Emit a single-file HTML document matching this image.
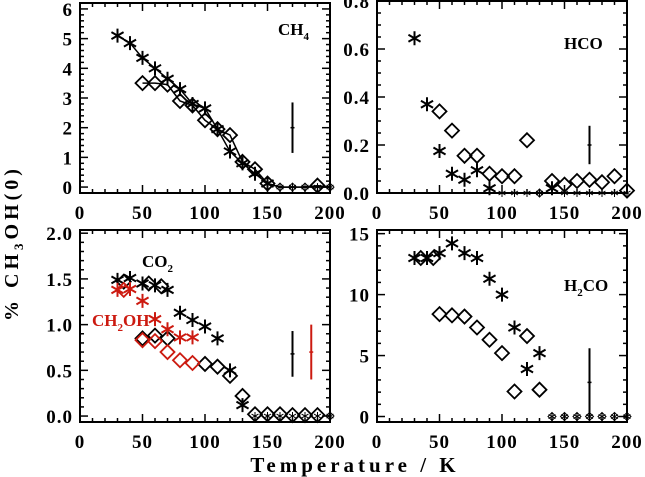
<!DOCTYPE html>
<html><head><meta charset="utf-8">
<style>
html,body{margin:0;padding:0;background:#fff;}
svg{display:block;}
text{font-family:"Liberation Serif",serif;font-weight:bold;}
</style></head>
<body>
<svg id="chart" width="645" height="477" viewBox="0 0 645 477" xmlns="http://www.w3.org/2000/svg">
<text transform="translate(18,243) rotate(-90)" text-anchor="middle" font-size="20" letter-spacing="4">% CH<tspan font-size="13" dy="5">3</tspan><tspan dy="-5">OH(0)</tspan></text>
<text x="355" y="472" text-anchor="middle" font-size="21" letter-spacing="4">Temperature / K</text>
</svg>
<script>
// ---- data ----
const ch4Temps = [30,40,50,60,70,80,90,100,110,120,130,140,150,160,170,180,190,200];
const ch4Stars = [5.1,4.85,4.35,4.0,3.65,3.3,2.8,2.65,1.95,1.2,0.8,0.45,0.12,0,0,0,0,0];
const ch4DiamTemps = [50,60,70,80,90,100,110,120,130,140,150,160,170,180,190,200];
const ch4Diams = [3.5,3.5,3.45,2.9,2.75,2.25,1.95,1.75,0.85,0.6,0.12,0,0,0,0.05,0];
const ch4Err = {x:170, y:2.0, e:0.85};

const hcoTemps = [30,40,50,60,70,80,90,100,110,120,130,140,150,160,170,180,190,200];
const hcoStars = [0.645,0.37,0.175,0.08,0.055,0.095,0.02,0,0,0,0,0.02,0,0,0,0,0,0];
const hcoDiamTemps = [50,60,70,80,90,100,110,120,130,140,150,160,170,180,190,200];
const hcoDiams = [0.34,0.26,0.155,0.155,0.08,0.07,0.07,0.22,0,0.05,0.035,0.05,0.055,0.045,0.07,0.01];
const hcoErr = {x:170, y:0.2, e:0.08};

const co2Temps = [30,40,50,60,70,80,90,100,110,120,130,140,150,160,170,180,190,200];
const co2Stars = [1.49,1.51,1.45,1.43,1.38,1.13,1.05,0.98,0.85,0.5,0.12,0,0,0,0,0,0,0];
const co2DiamTemps = [35,55,65,50,60,70,100,110,120,130,140,150,160,170,180,190,200];
const co2Diams = [1.47,1.45,1.42,0.85,0.88,0.85,0.57,0.54,0.44,0.22,0.02,0.02,0.02,0.01,0.01,0.01,0];
const ch2ohTemps = [30,40,50,60,70,80,90];
const ch2ohStars = [1.38,1.39,1.26,1.06,0.95,0.86,0.86];
const ch2ohDiamTemps = [35,50,60,70,80,90];
const ch2ohDiams = [1.38,0.83,0.82,0.7,0.61,0.58];
const co2Err = {x:170, y:0.68, e:0.25};
const ch2ohErr = {x:185, y:0.7, e:0.3};

const h2coTemps = [30,40,50,60,70,80,90,100,110,120,130,140,150,160,170,180,190,200];
const h2coStars = [13.0,13.0,13.4,14.2,13.4,13.0,11.3,10.0,7.3,3.9,5.2,0,0,0,0,0,0,0];
const h2coDiamTemps = [35,45,50,60,70,80,90,100,110,120,130,140,150,160,170,180,190,200];
const h2coDiams = [13.0,13.0,8.4,8.3,8.2,7.3,6.3,5.2,2.05,6.6,2.2,0,0,0,0,0,0,0];
const h2coErr = {x:170, y:2.8, e:2.8};

const xTicks = [0,50,100,150,200];
const ch4YTicks = [0,1,2,3,4,5,6];
const hcoYTicks = ["0.0","0.2","0.4","0.6","0.8"];
const co2YTicks = ["0.0","0.5","1.0","1.5","2.0"];
const h2coYTicks = [0,5,10,15];

// ---- drawing ----
const svg = document.getElementById('chart');
const NS = 'http://www.w3.org/2000/svg';
function mk(tag, attrs, parent){
  const e = document.createElementNS(NS, tag);
  for (const k in attrs) e.setAttribute(k, attrs[k]);
  (parent||svg).appendChild(e);
  return e;
}
function panel(name, L, R, T, B, ymin, ymax, yTicks, yMinor, p){
  const g = mk('g', {});
  
  
  const sx = v => L + (v-0)/(200-0)*(R-L);
  const sy = v => B - (v-ymin)/(ymax-ymin)*(B-T);
  const frame = mk('rect', {x:L, y:T, width:R-L, height:B-T, fill:'none', stroke:'#000', 'stroke-width':2}, g);
  
  
  for (let v=0; v<=200; v+=10){
    const len = v%50===0 ? 8 : 4;
    mk('line',{x1:sx(v),x2:sx(v),y1:B,y2:B-len,stroke:'#000','stroke-width':1.5},g);
    mk('line',{x1:sx(v),x2:sx(v),y1:T,y2:T+len,stroke:'#000','stroke-width':1.5},g);
  }
  xTicks.forEach(v=>{
    const t = mk('text',{x:sx(v),y:B+26,'text-anchor':'middle','font-size':19,'letter-spacing':1},g);
    t.textContent = v;
    
    
  });
  const y0 = parseFloat(yTicks[0]), y1 = parseFloat(yTicks[yTicks.length-1]);
  const n = Math.round((y1-y0)/yMinor);
  const step = (parseFloat(yTicks[1])-y0);
  for (let i=0;i<=n;i++){
    const v = y0 + i*yMinor;
    const major = Math.abs((v-y0)/step - Math.round((v-y0)/step))<1e-6;
    const len = major?8:4;
    mk('line',{x1:L,x2:L+len,y1:sy(v),y2:sy(v),stroke:'#000','stroke-width':1.5},g);
    mk('line',{x1:R,x2:R-len,y1:sy(v),y2:sy(v),stroke:'#000','stroke-width':1.5},g);
  }
  yTicks.forEach(v=>{
    const t = mk('text',{x:L-7,y:sy(parseFloat(v))+7,'text-anchor':'end','font-size':19,'letter-spacing':1},g);
    t.textContent = v;
    
    
  });
  p.g = g; p.sx = sx; p.sy = sy;
  return p;
}
function star(p, xs, ys, color, connect, sname){
  const g = mk('g',{},p.g);
  
  
  if (connect){
    const pts = xs.map((x,i)=>p.sx(x)+','+p.sy(ys[i])).join(' ');
    mk('polyline',{points:pts,fill:'none',stroke:color,'stroke-width':1.5},g);
  }
  xs.forEach((x,i)=>{
    const cx=p.sx(x), cy=p.sy(ys[i]);
    const small = ys[i]===0;
    const r = small ? 4 : 7;
    let d='';
    for (let a=0;a<3;a++){
      const ang = Math.PI/2 + a*Math.PI/3;
      d += `M${cx-r*Math.cos(ang)},${cy-r*Math.sin(ang)}L${cx+r*Math.cos(ang)},${cy+r*Math.sin(ang)}`;
    }
    const m = mk('path',{d:d,stroke:color,'stroke-width':small?1:2,fill:'none'},g);
    
    
  });
}
function diam(p, xs, ys, color, connect, sname){
  const g = mk('g',{},p.g);
  
  
  if (connect){
    const pts = xs.map((x,i)=>p.sx(x)+','+p.sy(ys[i])).join(' ');
    mk('polyline',{points:pts,fill:'none',stroke:color,'stroke-width':1.5},g);
  }
  xs.forEach((x,i)=>{
    const cx=p.sx(x), cy=p.sy(ys[i]);
    const small = ys[i]===0;
    const r = small ? 4 : 7;
    const m = mk('path',{d:`M${cx},${cy-r}L${cx+r},${cy}L${cx},${cy+r}L${cx-r},${cy}Z`,stroke:color,'stroke-width':small?1:1.8,fill:'none'},g);
    
    
  });
}
function err(p, e, color, sname){
  const g = mk('g',{},p.g);
  
  
  const x=p.sx(e.x);
  mk('line',{x1:x,x2:x,y1:p.sy(e.y-e.e),y2:p.sy(e.y+e.e),stroke:color,'stroke-width':2},g);
  mk('line',{x1:x-2,x2:x+2,y1:p.sy(e.y),y2:p.sy(e.y),stroke:color,'stroke-width':1.5},g);
}
function label(p, x, y, html, color, name){
  const t = mk('text',{x:x,y:y,'font-size':17,fill:color},p.g);
  t.innerHTML = html;
  
  
}

const p1 = panel('ch4-panel', 80, 330, 3, 193, -0.2, 6.2, ch4YTicks, 0.2, {});
diam(p1, ch4DiamTemps, ch4Diams, '#000', true, 'ch4-diamond-series');
star(p1, ch4Temps, ch4Stars, '#000', true, 'ch4-star-series');
err(p1, ch4Err, '#000', 'ch4-error-bar');
label(p1, 278, 35, 'CH<tspan font-size="11" dy="5">4</tspan>', '#000', 'ch4-label');

const p2 = panel('hco-panel', 377, 627, 1, 193, 0, 0.8, hcoYTicks, 0.05, {});
diam(p2, hcoDiamTemps, hcoDiams, '#000', false, 'hco-diamond-series');
star(p2, hcoTemps, hcoStars, '#000', false, 'hco-star-series');
err(p2, hcoErr, '#000', 'hco-error-bar');
label(p2, 564, 49, 'HCO', '#000', 'hco-label');

const p3 = panel('co2-panel', 80, 330, 230, 422, -0.065, 2.035, co2YTicks, 0.1, {});
diam(p3, co2DiamTemps, co2Diams, '#000', false, 'co2-diamond-series');
star(p3, co2Temps, co2Stars, '#000', false, 'co2-star-series');
diam(p3, ch2ohDiamTemps, ch2ohDiams, '#cc1a10', false, 'ch2oh-diamond-series');
star(p3, ch2ohTemps, ch2ohStars, '#cc1a10', false, 'ch2oh-star-series');
err(p3, co2Err, '#000', 'co2-error-bar');
err(p3, ch2ohErr, '#cc1a10', 'ch2oh-error-bar');
label(p3, 142, 267, 'CO<tspan font-size="11" dy="5">2</tspan>', '#000', 'co2-label');
label(p3, 92, 326, 'CH<tspan font-size="11" dy="5">2</tspan><tspan dy="-5">OH</tspan>', '#cc1a10', 'ch2oh-label');

const p4 = panel('h2co-panel', 377, 627, 230, 422, -0.45, 15.3, h2coYTicks, 1, {});
diam(p4, h2coDiamTemps, h2coDiams, '#000', false, 'h2co-diamond-series');
star(p4, h2coTemps, h2coStars, '#000', false, 'h2co-star-series');
err(p4, h2coErr, '#000', 'h2co-error-bar');
label(p4, 564, 291, 'H<tspan font-size="11" dy="5">2</tspan><tspan dy="-5">CO</tspan>', '#000', 'h2co-label');
</script>
</body></html>
